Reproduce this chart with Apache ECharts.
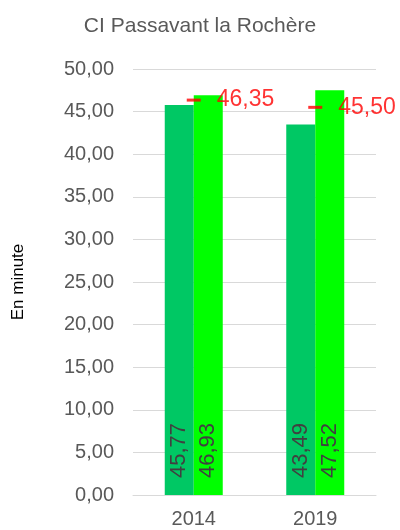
<!DOCTYPE html>
<html><head><meta charset="utf-8">
<script src="https://cdn.jsdelivr.net/npm/echarts@6/dist/echarts.min.js"></script>
<style>html,body{margin:0;padding:0;background:#fff}#c{width:400px;height:530px}</style>
</head><body><div id="c"></div>
<script>
const categories = ['2014', '2019'];
const seriesA = [45.77, 43.49];
const seriesB = [46.93, 47.52];
const markerValues = [46.35, 45.50];
const yTicks = { min: 0, max: 50, interval: 5 };

const fmt = v => v.toFixed(2).replace('.', ',');
const FONT = 'Liberation Sans, Arial, sans-serif';
const chart = echarts.init(document.getElementById('c'));
chart.setOption({
  animation: false,
  title: { text: 'CI Passavant la Rochère', left: 'center', top: 11,
    textStyle: { fontFamily: FONT, fontSize: 21, fontWeight: 'normal', color: '#595959' } },
  grid: { left: 133, right: 24, top: 69, bottom: 35 },
  xAxis: [{ type: 'category', data: categories,
    axisLine: { lineStyle: { color: '#d9d9d9' } }, axisTick: { show: false },
    axisLabel: { fontFamily: FONT, fontSize: 20, color: '#595959', margin: 14 } },
    { type: 'category', data: categories, show: false }],
  yAxis: { type: 'value', min: yTicks.min, max: yTicks.max, interval: yTicks.interval,
    name: 'En minute', nameLocation: 'middle', nameGap: 106, nameRotate: 90,
    nameTextStyle: { fontFamily: FONT, fontSize: 17, color: '#000' },
    axisLine: { show: false }, axisTick: { show: false },
    splitLine: { lineStyle: { color: '#d9d9d9', width: 1 } },
    axisLabel: { formatter: fmt, fontFamily: FONT, fontSize: 20, color: '#595959', margin: 19 } },
  series: [
    { type: 'bar', data: seriesA, barWidth: 29, barGap: '0%', itemStyle: { color: '#00C864' },
      label: { show: true, position: 'insideBottom', rotate: 90, align: 'left', verticalAlign: 'middle', distance: 17,
        formatter: p => fmt(p.value), fontFamily: FONT, fontSize: 22, color: '#404040' } },
    { type: 'bar', data: seriesB, barWidth: 29, barGap: '0%', itemStyle: { color: '#00FF00' },
      label: { show: true, position: 'insideBottom', rotate: 90, align: 'left', verticalAlign: 'middle', distance: 17,
        formatter: p => fmt(p.value), fontFamily: FONT, fontSize: 22, color: '#404040' } },
    { type: 'scatter', xAxisIndex: 1, data: markerValues, symbol: 'rect', symbolSize: [14, 3], z: 10,
      itemStyle: { color: '#FF0000' },
      label: { show: true, position: 'right', distance: 16, formatter: p => fmt(p.value),
        fontFamily: FONT, fontSize: 23, color: '#FF0000' } }
  ]
});
</script></body></html>
